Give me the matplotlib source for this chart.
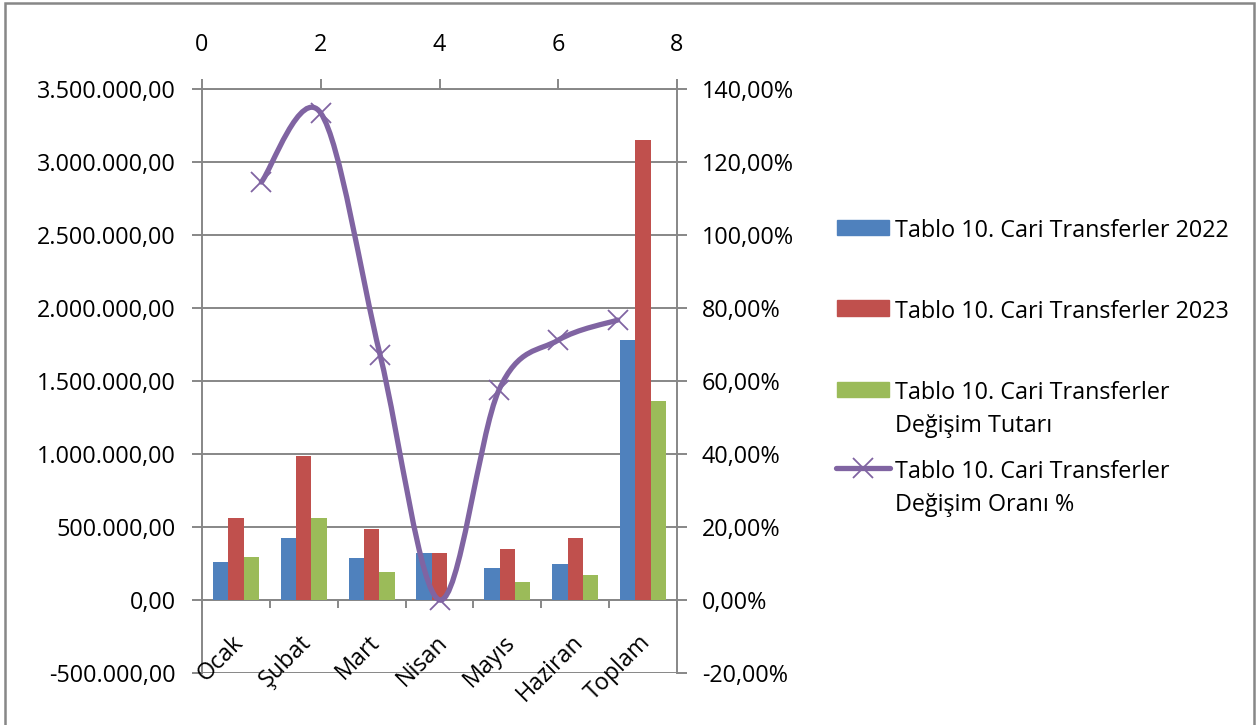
import numpy as np
import matplotlib.pyplot as plt
from matplotlib.path import Path
from matplotlib.patches import PathPatch, Rectangle
from matplotlib.lines import Line2D
from matplotlib.ticker import FuncFormatter

plt.rcParams['font.family'] = ['Open Sans', 'DejaVu Sans']

# ---- data ----
aylar = ["Ocak", "Şubat", "Mart", "Nisan", "Mayıs", "Haziran", "Toplam"]
tutar_2022 = [258000, 422000, 288000, 322000, 221000, 246000, 1781000]
tutar_2023 = [560000, 988000, 484000, 322000, 351000, 425000, 3151000]
degisim_tutari = [295000, 562000, 192000, 0, 125000, 173000, 1365000]
degisim_orani = [1.145, 1.334, 0.671, 0.0, 0.575, 0.712, 0.767]
oran_x = [1, 2, 3, 4, 5, 6, 7]

seri_adlari = ["Tablo 10. Cari Transferler 2022",
               "Tablo 10. Cari Transferler 2023",
               "Tablo 10. Cari Transferler\nDeğişim Tutarı",
               "Tablo 10. Cari Transferler\nDeğişim Oranı %"]

BLUE, RED, GREEN, PURPLE = "#4F81BD", "#C0504D", "#9BBB59", "#8064A2"
GRID = "#878787"
FS = 16.8

W, H = 1259, 725
fig = plt.figure(figsize=(W / 100, H / 100), dpi=100)

# outer chart frame (bottom edge falls outside the image)
fig.patches.append(Rectangle((5 / W, -0.05), 1249 / W, 1.05 - 3.5 / H,
                             transform=fig.transFigure, fill=False,
                             edgecolor=GRID, lw=1.8))

ax = fig.add_axes([202 / W, 1 - 673 / H, 475 / W, 584 / H])

# ---- bars ----
x = np.arange(len(aylar))
bw = 0.226
ax.bar(x - bw, tutar_2022, bw, color=BLUE, zorder=3)
ax.bar(x, tutar_2023, bw, color=RED, zorder=3)
ax.bar(x + bw, degisim_tutari, bw, color=GREEN, zorder=3)

ax.set_xlim(-0.5, 6.5)
ax.set_ylim(-500000, 3500000)
ax.set_yticks(np.arange(-500000, 3500001, 500000))
ax.yaxis.set_major_formatter(FuncFormatter(
    lambda v, p: f"{v:,.2f}".replace(",", "X").replace(".", ",").replace("X", ".")))
ax.grid(axis='y', color=GRID, lw=1.4, zorder=0)
ax.tick_params(axis='y', length=7, width=1.4, color=GRID, pad=12, labelsize=FS)

# category axis sits on the zero line
ax.spines['bottom'].set_position(('data', 0))
for s in ['top', 'right']:
    ax.spines[s].set_visible(False)
for s in ['left', 'bottom']:
    ax.spines[s].set_color(GRID)
    ax.spines[s].set_linewidth(1.4)
ax.set_xticks(np.arange(-0.5, 7, 1))
ax.set_xticklabels([])
ax.tick_params(axis='x', direction='out', length=6, width=1.4, color=GRID)
for i, ad in enumerate(aylar):
    ax.annotate(ad, xy=(i, 0), xytext=(3, -28), textcoords='offset points',
                rotation=45, rotation_mode='anchor', ha='right', va='center',
                fontsize=FS)

# ---- secondary axes for the ratio line ----
ax2 = ax.twinx()
ax2.set_ylim(-0.2, 1.4)
ax2.set_yticks(np.arange(-0.2, 1.41, 0.2))
ax2.yaxis.set_major_formatter(FuncFormatter(
    lambda v, p: f"{v * 100:.2f}%".replace(".", ",")))
ax2.tick_params(axis='y', length=7, width=1.4, color=GRID, pad=11, labelsize=FS)
for s in ['top', 'left', 'bottom']:
    ax2.spines[s].set_visible(False)
ax2.spines['right'].set_color(GRID)
ax2.spines['right'].set_linewidth(1.4)

ax3 = ax2.twiny()
ax3.set_xlim(0, 8)
ax3.set_xticks([0, 2, 4, 6, 8])
ax3.tick_params(axis='x', length=7, width=1.4, color=GRID, pad=16, labelsize=FS)
for s in ['bottom', 'left', 'right']:
    ax3.spines[s].set_visible(False)
ax3.spines['top'].set_color(GRID)
ax3.spines['top'].set_linewidth(1.4)

# smoothed line (Catmull-Rom as Bezier segments, like Excel's smoothing)
px = np.array(oran_x, dtype=float)
py = np.array(degisim_orani, dtype=float)
n = len(px)
verts = [(px[0], py[0])]
codes = [Path.MOVETO]
for i in range(n - 1):
    i0, i3 = max(i - 1, 0), min(i + 2, n - 1)
    c1 = (px[i] + (px[i + 1] - px[i0]) / 6, py[i] + (py[i + 1] - py[i0]) / 6)
    c2 = (px[i + 1] - (px[i3] - px[i]) / 6, py[i + 1] - (py[i3] - py[i]) / 6)
    verts += [c1, c2, (px[i + 1], py[i + 1])]
    codes += [Path.CURVE4] * 3
ax3.add_patch(PathPatch(Path(verts, codes), fill=False, edgecolor=PURPLE,
                        lw=3.8, capstyle='round', zorder=4))
ax3.plot(oran_x, degisim_orani, ls='none', marker='x', ms=14, mew=1.3,
         color=PURPLE, zorder=5)

# ---- legend ----
leg_x = 837 / W
hw, hh = 52 / W, 15 / H
tx = 895 / W
rows = [227, 308, 389, 468]
for k, (ad, yy) in enumerate(zip(seri_adlari, rows)):
    yf = 1 - yy / H
    if k < 3:
        fig.patches.append(Rectangle((leg_x, yf - hh / 2), hw, hh,
                                     transform=fig.transFigure,
                                     color=[BLUE, RED, GREEN][k]))
    else:
        fig.lines.append(Line2D([836 / W, 890 / W], [yf, yf],
                                transform=fig.transFigure, color=PURPLE,
                                lw=3.8, solid_capstyle='round'))
        fig.lines.append(Line2D([863 / W], [yf], transform=fig.transFigure,
                                marker='x', ms=14, mew=1.3, color=PURPLE))
    fig.text(tx, yf + 8 / H, ad, ha='left', va='top', fontsize=FS,
             linespacing=1.5, transform=fig.transFigure)

fig.savefig("out.png", dpi=100)
